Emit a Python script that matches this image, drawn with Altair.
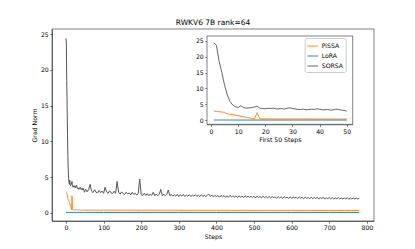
import altair as alt
import pandas as pd

FONT = "DejaVu Sans"
series_names = ["PiSSA", "LoRA", "SORSA"]
series_colors = ["#ff7f0e", "#1f77b4", "#555555"]

# SORSA: steps 0..49 individually
sorsa_head = [24.4, 23.6, 18.5, 15.0, 11.0, 8.0, 5.9, 4.8, 4.3, 4.0,
              4.6, 4.0, 3.8, 3.9, 4.0, 4.2, 4.4, 3.8, 3.7, 3.6,
              3.8, 3.7, 3.8, 3.6, 3.6, 3.7, 3.5, 3.8, 3.9, 3.7,
              3.6, 3.4, 3.4, 3.5, 3.3, 3.4, 3.5, 3.4, 3.6, 3.5,
              3.3, 3.3, 3.4, 3.2, 3.3, 3.5, 3.4, 3.2, 3.1, 2.9]
# SORSA: steps 52..780 every 4
sorsa_tail = [3.35, 2.95, 3.25, 4.0, 3.05, 2.85, 3.25, 2.9, 2.8, 3.15,
              2.85, 3.05, 2.75, 3.6, 2.95, 2.75, 3.1, 2.8, 2.7, 3.05,
              2.75, 4.4, 2.85, 2.65, 2.95, 2.7, 2.6, 2.9, 2.65, 2.8,
              2.55, 2.9, 2.6, 2.75, 2.5, 2.7, 4.75, 2.55, 2.45, 2.75,
              2.45, 2.7, 2.4, 2.65, 2.45, 2.9, 2.4, 2.65, 2.4, 2.6,
              3.3, 2.4, 2.65, 2.4, 2.6, 3.2, 2.4, 2.6, 2.35, 2.55,
              2.35, 2.6, 2.3, 2.55, 2.35, 2.6, 2.3, 2.5, 2.35, 2.55,
              2.3, 2.5, 2.35, 2.55, 2.3, 2.5, 2.3, 2.55, 2.3, 2.45,
              2.3, 2.5, 2.6, 2.3, 2.5, 2.25, 2.45, 2.3, 2.45, 2.2,
              2.45, 2.25, 2.45, 2.2, 2.4, 2.2, 2.45, 2.25, 2.4, 2.2,
              2.4, 2.15, 2.4, 2.2, 2.35, 2.15, 2.4, 2.2, 2.35, 2.15,
              2.35, 2.15, 2.35, 2.1, 2.35, 2.15, 2.3, 2.1, 2.35, 2.15,
              2.3, 2.1, 2.3, 2.1, 2.3, 2.15, 2.25, 2.05, 2.3, 2.1,
              2.25, 2.05, 2.3, 2.1, 2.2, 2.05, 2.25, 2.05, 2.2, 2.1,
              2.2, 2.0, 2.25, 2.05, 2.2, 2.0, 2.2, 2.05, 2.15, 2.0,
              2.2, 2.0, 2.15, 2.05, 2.2, 1.95, 2.15, 2.0, 2.2, 1.95,
              2.15, 2.0, 2.15, 1.95, 2.15, 1.95, 2.1, 2.0, 2.15, 1.95,
              2.1, 1.95, 2.1, 1.95, 2.15, 1.9, 2.1, 1.95, 2.1, 1.95,
              2.1, 1.95, 2.05]
sorsa_steps = list(range(0, 50)) + list(range(52, 781, 4))
sorsa_vals = sorsa_head + sorsa_tail

# PiSSA: steps 0..49 individually, then every 20 from 60
pissa_head = [2.9, 2.8, 2.7, 2.6, 2.5, 2.0, 1.9, 1.8, 1.6, 1.5,
              1.3, 1.1, 0.9, 0.8, 0.6, 0.4, 2.4, 0.45, 0.44, 0.44,
              0.43, 0.44, 0.43, 0.43, 0.42, 0.43, 0.42, 0.42, 0.43, 0.42,
              0.42, 0.41, 0.42, 0.42, 0.41, 0.41, 0.42, 0.41, 0.41, 0.40,
              0.41, 0.40, 0.41, 0.40, 0.40, 0.41, 0.40, 0.40, 0.39, 0.40]
pissa_tail = [0.40, 0.40, 0.39, 0.40, 0.39, 0.39, 0.39, 0.38, 0.39, 0.38,
              0.38, 0.38, 0.38, 0.37, 0.38, 0.37, 0.37, 0.37, 0.37, 0.37,
              0.36, 0.37, 0.36, 0.36, 0.36, 0.36, 0.36, 0.36, 0.35, 0.36,
              0.35, 0.35, 0.35, 0.35, 0.35, 0.35, 0.35]
pissa_steps = list(range(0, 50)) + list(range(60, 781, 20))
pissa_vals = pissa_head + pissa_tail

# LoRA
lora_steps = [0, 10, 20, 30, 40, 49, 100, 200, 300, 400, 500, 600, 700, 780]
lora_vals = [0.09, 0.08, 0.08, 0.08, 0.08, 0.08, 0.07, 0.07, 0.07, 0.07, 0.07, 0.07, 0.07, 0.07]

rows = []
for name, st, vs in [("PiSSA", pissa_steps, pissa_vals),
                     ("LoRA", lora_steps, lora_vals),
                     ("SORSA", sorsa_steps, sorsa_vals)]:
    for s, v in zip(st, vs):
        rows.append({"series": name, "step": s, "value": v})
main_df = pd.DataFrame(rows)
inset_df = main_df[main_df["step"] <= 49].copy()
inset_df["istep"] = inset_df["step"] + 1

ax = dict(grid=False, tickSize=2.2, tickWidth=0.5, tickColor="black",
          domainColor="black", domainWidth=0.5, labelFontSize=6.2,
          labelColor="black", titleFontSize=6.2, titleColor="black",
          titleFontWeight="normal", labelFont=FONT, titleFont=FONT,
          labelPadding=1.5)

xm = alt.X("step:Q", scale=alt.Scale(domain=[-37.2, 819], nice=False, zero=False),
           axis=alt.Axis(values=list(range(0, 801, 100)), title="Steps", orient="bottom",
                         titlePadding=3, **ax))
ym = alt.Y("value:Q", scale=alt.Scale(domain=[-1.12, 25.7], nice=False, zero=False),
           axis=alt.Axis(values=[0, 5, 10, 15, 20, 25], title="Grad Norm", orient="left",
                         titlePadding=3, **ax))

def main_line(name, col, w):
    return alt.Chart(main_df).transform_filter(alt.datum.series == name).mark_line(
        strokeWidth=w, color=col).encode(x=xm, y=ym)

main = alt.layer(main_line("PiSSA", series_colors[0], 0.9),
                 main_line("LoRA", series_colors[1], 0.9),
                 main_line("SORSA", series_colors[2], 1.0))

xi = alt.X("istep:Q", scale=alt.Scale(domain=[-1.47, 52.2], range=[155, 300.7], nice=False, zero=False),
           axis=alt.Axis(values=[0, 10, 20, 30, 40, 50], title="First 50 Steps", orient="bottom",
                         offset=-96.7, titlePadding=2, **ax))
yi = alt.Y("value:Q", scale=alt.Scale(domain=[-1.26, 26.5], range=[95.3, 7], nice=False, zero=False),
           axis=alt.Axis(values=[0, 5, 10, 15, 20, 25], title="", orient="left",
                         offset=-155, **ax))
cs = alt.Scale(domain=series_names, range=series_colors)
leg = alt.Legend(title=None, orient="none", legendX=252.7, legendY=9, padding=2,
                 strokeColor="#cccccc", fillColor="white", cornerRadius=2,
                 symbolType="stroke", symbolStrokeWidth=0.9, symbolSize=110,
                 labelFontSize=6.2, labelFont=FONT, labelColor="black",
                 rowPadding=-3.5, labelOffset=3)

def inset_line(name):
    return alt.Chart(inset_df).transform_filter(alt.datum.series == name).mark_line(
        strokeWidth=0.9).encode(x=xi, y=yi,
                                color=alt.Color("series:N", scale=cs, legend=leg))

frame = alt.Chart(pd.DataFrame({"k": [0]})).mark_rect(
    fill="white", stroke="black", strokeWidth=0.5).encode(
    x=alt.value(155), x2=alt.value(300.7), y=alt.value(7), y2=alt.value(95.3))

inset = alt.layer(frame, inset_line("PiSSA"), inset_line("LoRA"), inset_line("SORSA"))

chart = alt.layer(main, inset).resolve_scale(x="independent", y="independent").properties(
    width=322, height=192,
    title=alt.Title("RWKV6 7B rank=64", fontSize=7.5, font=FONT, fontWeight="normal",
                    color="black", offset=3),
    padding={"left": 44, "top": 21, "right": 30, "bottom": 20},
    autosize=alt.AutoSizeParams(type="none"),
).configure_view(stroke="black", strokeWidth=0.5)

chart.save("out.html", embed_options={"renderer": "svg", "actions": False})
